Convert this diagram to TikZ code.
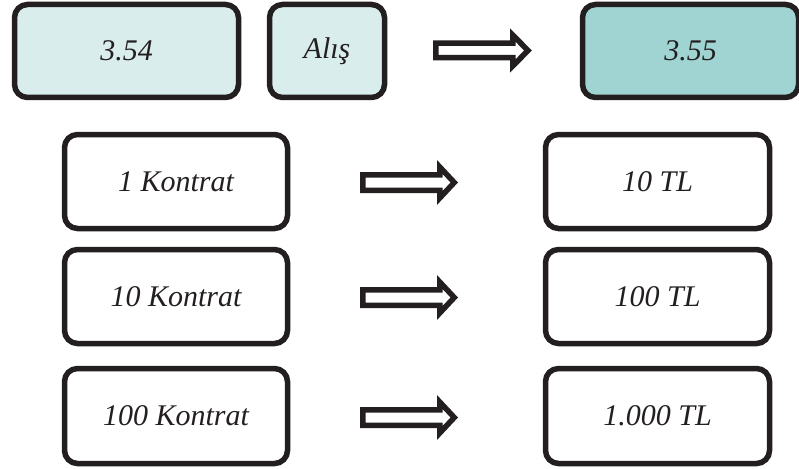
\documentclass[tikz,border=0pt]{standalone}
\usepackage{fontspec}
\setmainfont{Liberation Serif}
\definecolor{bord}{HTML}{231F20}
\definecolor{lightfill}{HTML}{DAEDED}
\definecolor{tealfill}{HTML}{A0D4D2}
\begin{document}
\begin{tikzpicture}[x=1pt,y=-1pt,
  box/.style={draw=bord,line width=5.5pt,rounded corners=13pt,inner sep=0pt,
    font=\fontsize{30}{36}\selectfont\itshape,text=bord},
  blockarrow/.style={draw=bord,line width=5.5pt,fill=white,line join=miter}]
\useasboundingbox (0,0) rectangle (799,468);
% top row
\node[box,fill=lightfill,minimum width=224pt,minimum height=93pt] (p1) at (126.5,51) {3.54};
\node[box,fill=lightfill,minimum width=115pt,minimum height=93pt] (alis) at (327,51) {Alış};
\node[box,fill=tealfill,minimum width=216pt,minimum height=93pt] (p2) at (690.5,51) {3.55};
% rows
\node[box,minimum width=223pt,minimum height=94pt] (k1) at (176,181.5) {1 Kontrat};
\node[box,minimum width=223pt,minimum height=94pt] (k2) at (176,296.5) {10 Kontrat};
\node[box,minimum width=223pt,minimum height=95pt] (k3) at (176,416) {100 Kontrat};
\node[box,minimum width=224pt,minimum height=94pt] (t1) at (657.5,181.5) {10 TL};
\node[box,minimum width=224pt,minimum height=94pt] (t2) at (657.5,296.5) {100 TL};
\node[box,minimum width=224pt,minimum height=95pt] (t3) at (657.5,416) {1.000 TL};
% block arrows
\draw[blockarrow] (435.75,43.25) -- (512.75,43.25) -- (512.75,35) -- (528,50.5) -- (512.75,66) -- (512.75,57.75) -- (435.75,57.75) -- cycle;
\foreach \yc in {182.5,297.5,417.5}{
  \draw[blockarrow] (362.75,\yc-7.75) -- (439.75,\yc-7.75) -- (439.75,\yc-15.5) -- (454.25,\yc) -- (439.75,\yc+15.5) -- (439.75,\yc+7.75) -- (362.75,\yc+7.75) -- cycle;
}
\end{tikzpicture}
\end{document}
